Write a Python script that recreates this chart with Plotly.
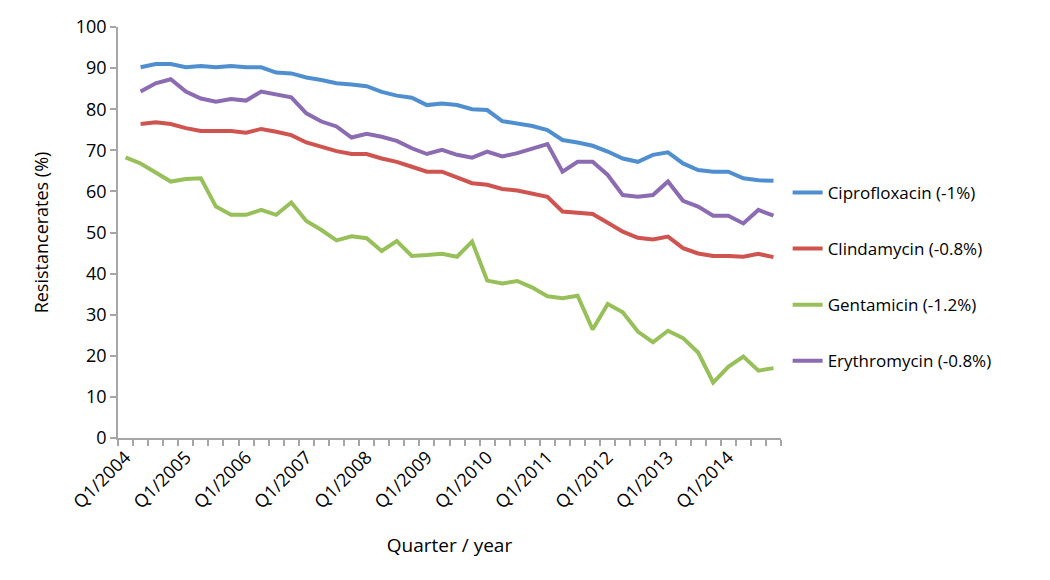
import plotly.graph_objects as go

quarters = [f"Q{q}/{y}" for y in range(2004, 2015) for q in range(1, 5)]
tick_labels = [f"Q1/{y}" for y in range(2004, 2015)]

cipro = [90.2, 91.0, 91.0, 90.2, 90.5, 90.2, 90.5, 90.2, 90.2, 88.9, 88.7, 87.7, 87.1, 86.3,
         86.0, 85.6, 84.2, 83.3, 82.8, 81.0, 81.4, 81.0, 80.0, 79.8, 77.1, 76.4, 75.9, 74.9,
         72.5, 71.9, 71.1, 69.7, 68.0, 67.2, 68.9, 69.5, 66.8, 65.2, 64.8, 64.8, 63.2, 62.7, 62.6]
clinda = [76.4, 76.8, 76.4, 75.4, 74.7, 74.7, 74.7, 74.3, 75.2, 74.5, 73.7, 71.9, 70.9, 69.8,
          69.1, 69.1, 68.0, 67.2, 66.0, 64.8, 64.8, 63.3, 62.0, 61.6, 60.6, 60.2, 59.4, 58.7,
          55.1, 54.9, 54.5, 52.4, 50.2, 48.7, 48.3, 49.0, 46.2, 44.9, 44.3, 44.3, 44.1, 44.8, 44.0]
genta = [68.3, 66.8, 64.6, 62.4, 63.0, 63.2, 56.3, 54.3, 54.3, 55.5, 54.3, 57.3, 52.8, 50.6,
         48.1, 49.1, 48.6, 45.5, 47.9, 44.3, 44.5, 44.8, 44.1, 47.8, 38.3, 37.6, 38.2, 36.6,
         34.5, 34.0, 34.6, 26.4, 32.6, 30.6, 25.9, 23.3, 26.1, 24.3, 20.8, 13.5, 17.3, 19.8,
         16.4, 17.0]
ery = [84.3, 86.3, 87.3, 84.3, 82.6, 81.8, 82.5, 82.1, 84.3, 83.7, 82.9, 79.0, 77.0, 75.8,
       73.1, 74.0, 73.3, 72.3, 70.5, 69.1, 70.1, 68.9, 68.2, 69.7, 68.5, 69.3, 70.5, 71.5,
       64.8, 67.2, 67.2, 64.0, 59.1, 58.7, 59.1, 62.4, 57.7, 56.3, 54.1, 54.1, 52.2, 55.5, 54.1]

series = [
    ("Ciprofloxacin (-1%)", cipro, "#4F8FD0"),
    ("Clindamycin (-0.8%)", clinda, "#CF534E"),
    ("Gentamicin (-1.2%)", genta, "#97C05A"),
    ("Erythromycin (-0.8%)", ery, "#8B6BB1"),
]

n = len(quarters)
pos = list(range(1, n + 1))

fig = go.Figure()
for name, vals, color in series:
    xs = pos[n - len(vals):]
    fig.add_trace(go.Scatter(
        x=xs, y=vals, mode="lines", name=name, legendgroup=name,
        line=dict(color=color, width=4),
        text=quarters[n - len(vals):],
    ))

font = "Open Sans, Liberation Sans, sans-serif"
axis_col = "#A6A6A6"

fig.update_layout(
    width=1050, height=580,
    margin=dict(l=110, r=277, t=19, b=150),
    paper_bgcolor="white", plot_bgcolor="white",
    font=dict(family=font, color="black", size=17),
    showlegend=True,
    legend=dict(x=1.01, y=0.64, xanchor="left", yanchor="top",
                font=dict(size=17, family=font), tracegroupgap=31,
                traceorder="grouped", bgcolor="rgba(0,0,0,0)"),
    xaxis=dict(
        range=[0.5, n + 0.5], automargin=False,
        tickmode="array",
        tickvals=[pos[quarters.index(t)] for t in tick_labels],
        ticktext=tick_labels,
        tickangle=-45,
        ticks="", showgrid=False, zeroline=False,
        showline=True, linecolor=axis_col, linewidth=1.5,
        tickfont=dict(size=18),
        minor=dict(tickmode="array", tickvals=[p + 0.5 for p in [0] + pos],
                   ticks="outside", ticklen=6, tickwidth=1.5, tickcolor=axis_col,
                   showgrid=False),
        title=dict(text="Quarter / year", font=dict(size=19), standoff=26),
    ),
    yaxis=dict(
        range=[0, 100], automargin=False, tickmode="linear", tick0=0, dtick=10,
        ticks="outside", ticklen=6, tickwidth=1.5, tickcolor=axis_col,
        showline=True, linecolor=axis_col, linewidth=1.5,
        showgrid=False, zeroline=False,
        tickfont=dict(size=18),
        title=dict(text="Resistancerates (%)", font=dict(size=18), standoff=22),
    ),
)

fig.write_html("out.html")
